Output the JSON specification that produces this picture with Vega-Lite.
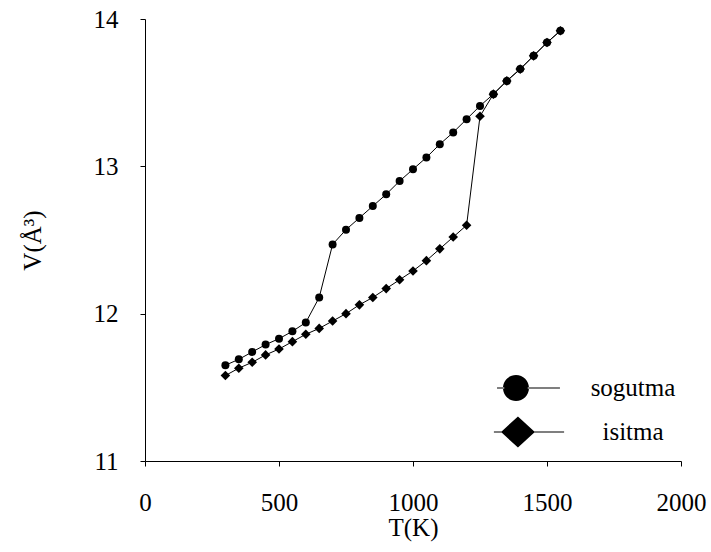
{
  "$schema": "https://vega.github.io/schema/vega-lite/v6.json",
  "width": 536,
  "height": 442,
  "autosize": "none",
  "padding": {"left": 145, "top": 19, "right": 30, "bottom": 91},
  "background": "white",
  "config": {
    "view": {"stroke": null},
    "font": "Liberation Serif",
    "axis": {"grid": false, "domainColor": "black", "tickColor": "black", "labelColor": "black", "titleColor": "black", "labelFont": "Liberation Serif", "titleFont": "Liberation Serif", "labelFontSize": 25, "titleFontSize": 25, "titleFontWeight": "normal", "tickSize": 5, "domainWidth": 1, "tickWidth": 1, "labelFlush": false}
  },
  "data": {"values": [
    {"T": 300, "V": 11.65, "s": "sogutma"},
    {"T": 350, "V": 11.69, "s": "sogutma"},
    {"T": 400, "V": 11.74, "s": "sogutma"},
    {"T": 450, "V": 11.79, "s": "sogutma"},
    {"T": 500, "V": 11.83, "s": "sogutma"},
    {"T": 550, "V": 11.88, "s": "sogutma"},
    {"T": 600, "V": 11.94, "s": "sogutma"},
    {"T": 650, "V": 12.11, "s": "sogutma"},
    {"T": 700, "V": 12.47, "s": "sogutma"},
    {"T": 750, "V": 12.57, "s": "sogutma"},
    {"T": 800, "V": 12.65, "s": "sogutma"},
    {"T": 850, "V": 12.73, "s": "sogutma"},
    {"T": 900, "V": 12.81, "s": "sogutma"},
    {"T": 950, "V": 12.90, "s": "sogutma"},
    {"T": 1000, "V": 12.98, "s": "sogutma"},
    {"T": 1050, "V": 13.06, "s": "sogutma"},
    {"T": 1100, "V": 13.15, "s": "sogutma"},
    {"T": 1150, "V": 13.23, "s": "sogutma"},
    {"T": 1200, "V": 13.32, "s": "sogutma"},
    {"T": 1250, "V": 13.41, "s": "sogutma"},
    {"T": 1300, "V": 13.49, "s": "sogutma"},
    {"T": 1350, "V": 13.58, "s": "sogutma"},
    {"T": 1400, "V": 13.66, "s": "sogutma"},
    {"T": 1450, "V": 13.75, "s": "sogutma"},
    {"T": 1500, "V": 13.84, "s": "sogutma"},
    {"T": 1550, "V": 13.92, "s": "sogutma"},
    {"T": 300, "V": 11.58, "s": "isitma"},
    {"T": 350, "V": 11.63, "s": "isitma"},
    {"T": 400, "V": 11.67, "s": "isitma"},
    {"T": 450, "V": 11.72, "s": "isitma"},
    {"T": 500, "V": 11.76, "s": "isitma"},
    {"T": 550, "V": 11.81, "s": "isitma"},
    {"T": 600, "V": 11.86, "s": "isitma"},
    {"T": 650, "V": 11.90, "s": "isitma"},
    {"T": 700, "V": 11.95, "s": "isitma"},
    {"T": 750, "V": 12.00, "s": "isitma"},
    {"T": 800, "V": 12.06, "s": "isitma"},
    {"T": 850, "V": 12.11, "s": "isitma"},
    {"T": 900, "V": 12.17, "s": "isitma"},
    {"T": 950, "V": 12.23, "s": "isitma"},
    {"T": 1000, "V": 12.29, "s": "isitma"},
    {"T": 1050, "V": 12.36, "s": "isitma"},
    {"T": 1100, "V": 12.44, "s": "isitma"},
    {"T": 1150, "V": 12.52, "s": "isitma"},
    {"T": 1200, "V": 12.60, "s": "isitma"},
    {"T": 1250, "V": 13.34, "s": "isitma"},
    {"T": 1300, "V": 13.49, "s": "isitma"},
    {"T": 1350, "V": 13.58, "s": "isitma"},
    {"T": 1400, "V": 13.66, "s": "isitma"},
    {"T": 1450, "V": 13.75, "s": "isitma"},
    {"T": 1500, "V": 13.84, "s": "isitma"},
    {"T": 1550, "V": 13.92, "s": "isitma"}
  ]},
  "encoding": {
    "x": {"field": "T", "type": "quantitative", "scale": {"domain": [0, 2000], "nice": false, "zero": false}, "axis": {"values": [0, 500, 1000, 1500, 2000], "format": "d", "title": "T(K)", "labelPadding": 24, "titlePadding": 0}},
    "y": {"field": "V", "type": "quantitative", "scale": {"domain": [11, 14], "nice": false, "zero": false}, "axis": {"values": [11, 12, 13, 14], "title": "V(Å³)", "labelPadding": 22, "titlePadding": 48}}
  },
  "resolve": {"scale": {"shape": "independent"}, "legend": {"shape": "independent"}},
  "layer": [
    {
      "mark": {"type": "line", "color": "black", "strokeWidth": 1},
      "encoding": {"detail": {"field": "s"}}
    },
    {
      "mark": {"type": "point", "filled": true, "color": "black", "opacity": 1, "size": 64},
      "encoding": {
        "shape": {"field": "s", "type": "nominal", "scale": {"domain": ["sogutma", "isitma"], "range": ["circle", "M-1.2,0L0,-1.2L1.2,0L0,1.2Z"]}, "legend": null}
      }
    },
    {
      "mark": {"type": "point", "filled": true, "color": "black", "opacity": 0, "size": 676},
      "encoding": {
        "shape": {"field": "s", "type": "nominal", "scale": {"domain": ["sogutma", "isitma"], "range": ["M-1.46,-0.04H-0.9V0.04H-1.46ZM0.9,-0.04H3.38V0.04H0.9ZM-1,0A1,1 0 1,0 1,0A1,1 0 1,0 -1,0Z", "M-1.7,-0.04H-1V0.04H-1.7ZM1.3,-0.04H3.7V0.04H1.3ZM-1.15,0L0.15,-1.2L1.45,0L0.15,1.2Z"]},
          "legend": {
            "title": null, "orient": "none", "legendX": 358, "legendY": 356, "padding": 0,
            "symbolSize": 676, "symbolFillColor": "black", "symbolStrokeColor": "black", "symbolStrokeWidth": 0, "symbolOpacity": 1,
            "labelFont": "Liberation Serif", "labelFontSize": 25, "labelColor": "black", "labelAlign": "center", "labelOffset": 104, "rowPadding": 15,
            "encode": {"symbols": {"update": {"fill": {"value": "black"}, "opacity": {"value": 1}, "size": {"value": 676}}}}
          }
        }
      }
    }
  ]
}
